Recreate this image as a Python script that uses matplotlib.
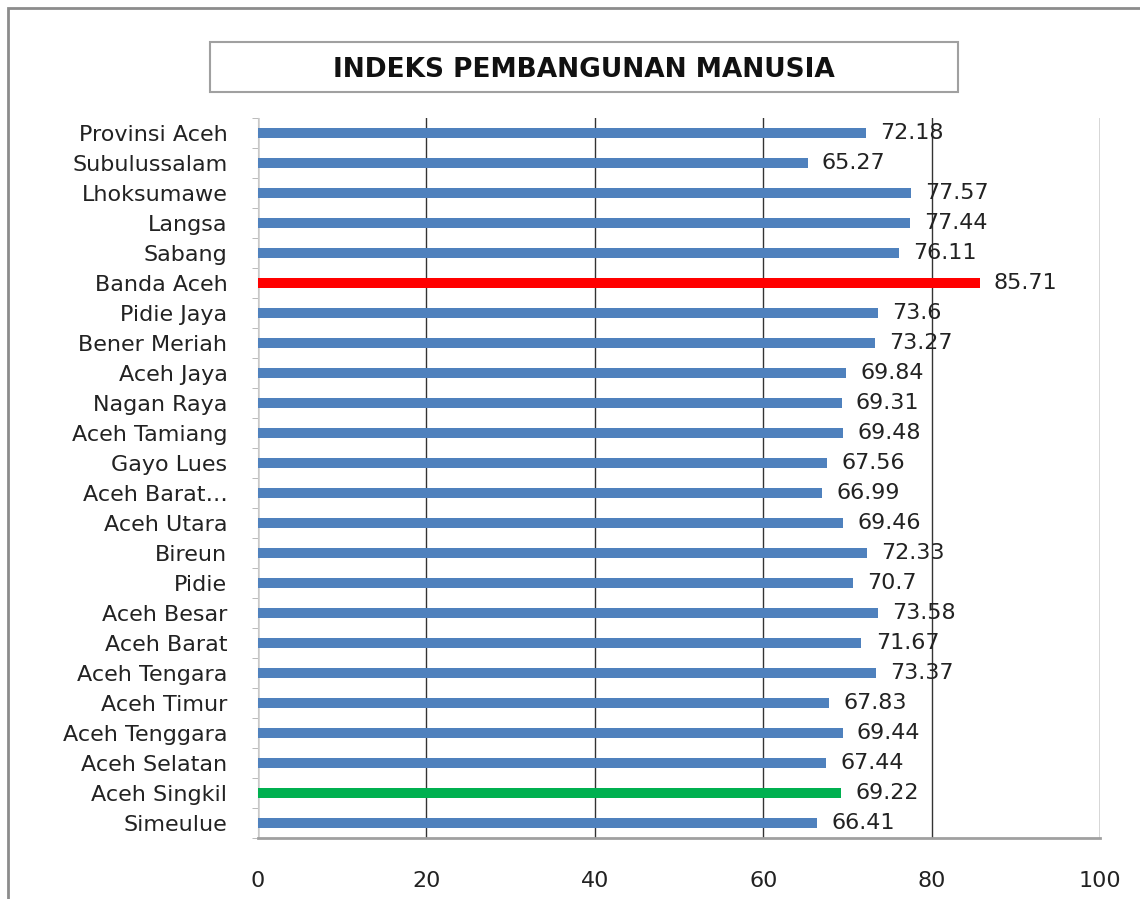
import numpy as np
import matplotlib
matplotlib.use("Agg")
import matplotlib.pyplot as plt
from matplotlib.patches import Rectangle

# data, top to bottom as in the chart
daerah = ["Provinsi Aceh", "Subulussalam", "Lhoksumawe", "Langsa", "Sabang",
          "Banda Aceh", "Pidie Jaya", "Bener Meriah", "Aceh Jaya", "Nagan Raya",
          "Aceh Tamiang", "Gayo Lues", "Aceh Barat\u2026", "Aceh Utara", "Bireun",
          "Pidie", "Aceh Besar", "Aceh Barat", "Aceh Tengara", "Aceh Timur",
          "Aceh Tenggara", "Aceh Selatan", "Aceh Singkil", "Simeulue"]
ipm = [72.18, 65.27, 77.57, 77.44, 76.11, 85.71, 73.6, 73.27, 69.84, 69.31,
       69.48, 67.56, 66.99, 69.46, 72.33, 70.7, 73.58, 71.67, 73.37, 67.83,
       69.44, 67.44, 69.22, 66.41]
label_ipm = ["72.18", "65.27", "77.57", "77.44", "76.11", "85.71", "73.6", "73.27",
             "69.84", "69.31", "69.48", "67.56", "66.99", "69.46", "72.33", "70.7",
             "73.58", "71.67", "73.37", "67.83", "69.44", "67.44", "69.22", "66.41"]
warna = {"Banda Aceh": "#FF0000", "Aceh Singkil": "#00B050"}
xticks = [0, 20, 40, 60, 80, 100]

fig = plt.figure(figsize=(11.4, 8.99), dpi=100)
fig.patch.set_facecolor("white")

# outer chart border
fig.patches.append(Rectangle((8 / 1140, -0.1), 1.2, 1 - 8 / 899 + 0.1,
                             transform=fig.transFigure, fill=False,
                             edgecolor="#8c8c8c", linewidth=2))

ax = fig.add_axes([258 / 1140, 1 - 838 / 899, (1100 - 258) / 1140, 720 / 899])
y = np.arange(len(daerah))
cols = [warna.get(d, "#4F81BD") for d in daerah]
ax.barh(y, ipm, height=0.36, color=cols, zorder=3)
ax.set_ylim(len(daerah) - 0.5, -0.5)
ax.set_xlim(0, 100)
ax.set_xticks(xticks)
ax.set_xticklabels([str(t) for t in xticks], fontsize=16, color="#222222")
ax.tick_params(axis="x", length=0, pad=24)
ax.set_yticks(y)
ax.set_yticklabels(daerah, fontsize=16, color="#222222")
ax.set_yticks(np.arange(len(daerah) + 1) - 0.5, minor=True)
ax.tick_params(axis="y", which="major", length=0, pad=22)
ax.tick_params(axis="y", which="minor", length=4, color="#b0b0b0")
ax.grid(axis="x", color="#333333", linewidth=1, zorder=0)
for s in ["top", "right"]:
    ax.spines[s].set_visible(False)
ax.spines["left"].set_color("#c8c8c8")
ax.spines["bottom"].set_color("#a0a0a0")
ax.spines["bottom"].set_linewidth(2)

for yi, v, t in zip(y, ipm, label_ipm):
    ax.text(v + 1.7, yi, t, va="center", ha="left", fontsize=16, color="#222222", zorder=4)

# title box
fig.patches.append(Rectangle((210 / 1140, 1 - 92 / 899), (958 - 210) / 1140, 50 / 899,
                             transform=fig.transFigure, facecolor="white",
                             edgecolor="#a0a0a0", linewidth=1.5))
fig.text(584 / 1140, 1 - 70 / 899, "INDEKS PEMBANGUNAN MANUSIA", ha="center",
         va="center", fontsize=19, fontweight="bold", color="#111111")

fig.savefig("out.png", dpi=100)
